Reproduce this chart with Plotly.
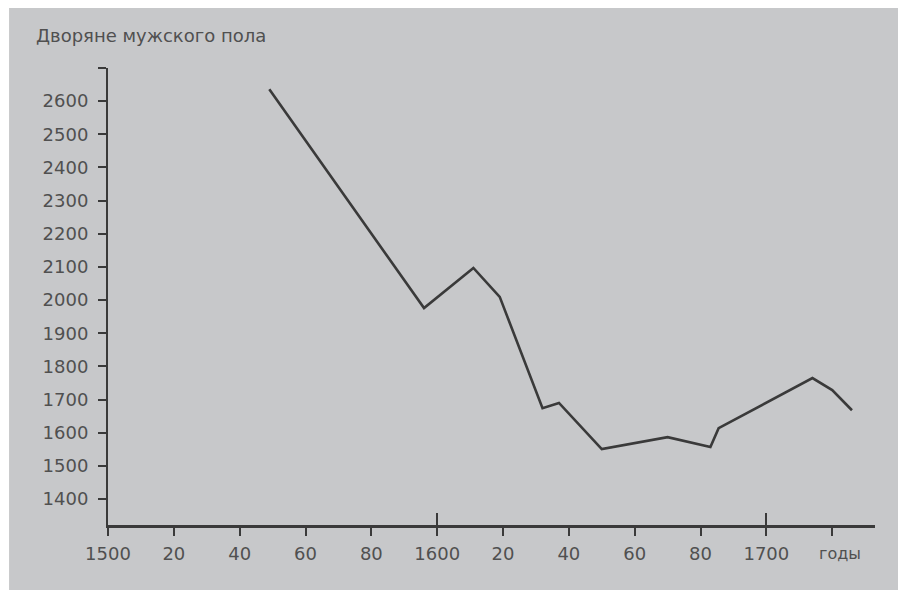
import plotly.graph_objects as go

# годы и численность дворян мужского пола
years = [1549, 1596, 1611, 1619, 1632, 1637, 1650, 1670, 1683, 1685.5, 1714, 1720, 1726]
nobles = [2636, 1976, 2097, 2010, 1674, 1690, 1551, 1587, 1557, 1614, 1765, 1729, 1668]

x_ticks = [1500, 1520, 1540, 1560, 1580, 1600, 1620, 1640, 1660, 1680, 1700, 1720]
x_labels = ["1500", "20", "40", "60", "80", "1600", "20", "40", "60", "80", "1700", ""]
y_ticks = [1400, 1500, 1600, 1700, 1800, 1900, 2000, 2100, 2200, 2300, 2400, 2500, 2600, 2700]
y_labels = [str(v) for v in y_ticks[:-1]] + [""]

ink = "#3a3a3a"
txt = "#505050"
fnt = "DejaVu Sans, Verdana, sans-serif"

fig = go.Figure()

fig.add_trace(go.Scatter(
    x=years, y=nobles, mode="lines",
    line=dict(color=ink, width=2.6),
    hoverinfo="x+y",
))

# серый фон скана
fig.add_shape(type="rect", xref="paper", yref="paper",
              x0=-0.129, x1=1.06, y0=-0.142, y1=1.14,
              fillcolor="#c7c8ca", line_width=0, layer="below")

fig.add_annotation(text="Дворяне мужского пола", xref="paper", yref="paper",
                   x=-0.097, y=1.072, xanchor="left", yanchor="middle",
                   showarrow=False, font=dict(size=18, color=txt, family=fnt))
fig.add_annotation(text="годы", xref="x", yref="paper",
                   x=1722.5, y=-0.062, xanchor="center", yanchor="middle",
                   showarrow=False, font=dict(size=16, color=txt, family=fnt))

fig.update_xaxes(
    range=[1500, 1733], tickvals=x_ticks, ticktext=x_labels,
    ticks="outside", ticklen=8, tickwidth=1.5, tickcolor=ink,
    showline=True, linecolor=ink, linewidth=2.5, showgrid=False, zeroline=False,
    tickfont=dict(size=18, color=txt, family=fnt), ticklabelstandoff=3,
    minor=dict(tickvals=[1600, 1700], ticks="inside", ticklen=12,
               tickwidth=1.5, tickcolor=ink, showgrid=False),
)
fig.update_yaxes(
    range=[1322, 2700], tickvals=y_ticks, ticktext=y_labels,
    ticks="outside", ticklen=8, tickwidth=1.5, tickcolor=ink,
    showline=True, linecolor=ink, linewidth=2, showgrid=False, zeroline=False,
    tickfont=dict(size=18, color=txt, family=fnt), ticklabelstandoff=6,
)

# сдвиг на 8 px компенсирует отступ body страницы
fig.update_layout(
    width=906, height=592,
    margin=dict(l=100, r=39, t=60, b=75),
    paper_bgcolor="white", plot_bgcolor="rgba(0,0,0,0)",
    showlegend=False,
    font=dict(family=fnt, color=txt),
)

fig.write_html("out.html")
